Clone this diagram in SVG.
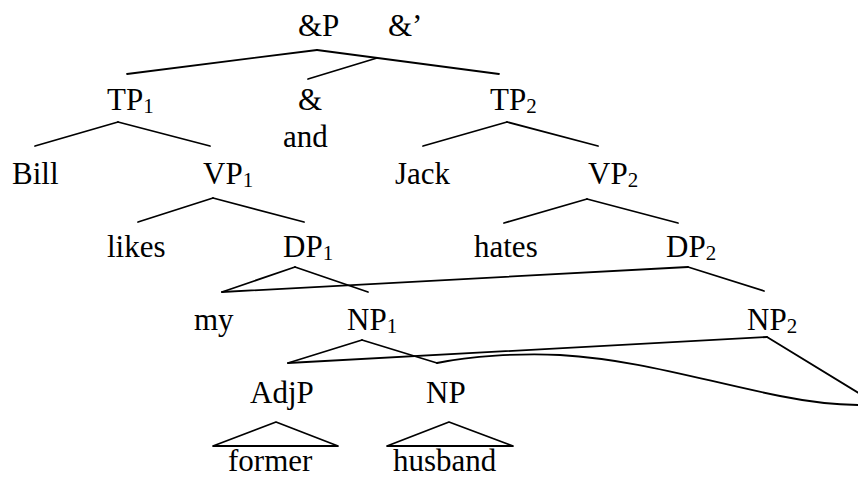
<svg xmlns="http://www.w3.org/2000/svg" width="858" height="478" viewBox="0 0 858 478">
<style>
text{font-family:'Liberation Serif','Times New Roman','DejaVu Serif',serif;font-size:31px;fill:#000}
.sub{font-size:21px}
.e{stroke:#000;stroke-width:1.8;fill:none;stroke-linecap:round;stroke-linejoin:round}
</style>
<rect width="858" height="478" fill="#fff"/>
<g id="connectors" class="e">
<line x1="317" y1="50" x2="127" y2="74"/>
<line x1="317" y1="50" x2="499" y2="74"/>
<line x1="377" y1="58" x2="308" y2="79"/>
<line x1="118" y1="122" x2="35" y2="146"/>
<line x1="118" y1="122" x2="210" y2="146"/>
<line x1="507" y1="122" x2="423" y2="146"/>
<line x1="507" y1="122" x2="598" y2="146"/>
<line x1="213" y1="198" x2="138" y2="222"/>
<line x1="213" y1="198" x2="304" y2="222"/>
<line x1="587" y1="199" x2="504" y2="223"/>
<line x1="587" y1="199" x2="678" y2="223"/>
<line x1="295" y1="267" x2="222" y2="292"/>
<line x1="295" y1="267" x2="368" y2="292"/>
<line x1="688" y1="267" x2="222" y2="292"/>
<line x1="688" y1="267" x2="764" y2="291"/>
<line x1="362" y1="340" x2="288" y2="363"/>
<line x1="362" y1="340" x2="437" y2="363"/>
<line x1="767" y1="337" x2="288" y2="363"/>
<line x1="767" y1="337" x2="870" y2="400"/>
<path d="M437,363 C470,356 520,353 560,355 C640,360 700,380 780,396 C820,404 840,405 860,405"/>
<polygon points="276,422 213,446 338,446"/>
<polygon points="449,422 387,446 513,446"/>
</g>
<g id="nodes" font-family="'Liberation Serif', 'DejaVu Serif', serif">
<g id="andP"><text x="298" y="36">&amp;P</text></g>
<g id="andBar"><text x="388" y="36">&amp;’</text></g>
<g id="TP1"><text x="107" y="110">TP<tspan class="sub" dy="3">1</tspan></text></g>
<g id="and"><text x="298" y="110">&amp;</text><text x="283" y="147">and</text></g>
<g id="TP2"><text x="490" y="110">TP<tspan class="sub" dy="3">2</tspan></text></g>
<g id="Bill"><text x="12" y="184">Bill</text></g>
<g id="VP1"><text x="203" y="184">VP<tspan class="sub" dy="3">1</tspan></text></g>
<g id="Jack"><text x="395" y="184">Jack</text></g>
<g id="VP2"><text x="588" y="184">VP<tspan class="sub" dy="3">2</tspan></text></g>
<g id="likes"><text x="107" y="257">likes</text></g>
<g id="DP1"><text x="283" y="257">DP<tspan class="sub" dy="3">1</tspan></text></g>
<g id="hates"><text x="474" y="257">hates</text></g>
<g id="DP2"><text x="666" y="257">DP<tspan class="sub" dy="3">2</tspan></text></g>
<g id="my"><text x="194" y="330">my</text></g>
<g id="NP1"><text x="347" y="330">NP<tspan class="sub" dy="3">1</tspan></text></g>
<g id="NP2"><text x="747" y="330">NP<tspan class="sub" dy="3">2</tspan></text></g>
<g id="AdjP"><text x="250" y="403">AdjP</text></g>
<g id="NP"><text x="426" y="403">NP</text></g>
<g id="former"><text x="228" y="471">former</text></g>
<g id="husband"><text x="393" y="471">husband</text></g>
</g>
</svg>
